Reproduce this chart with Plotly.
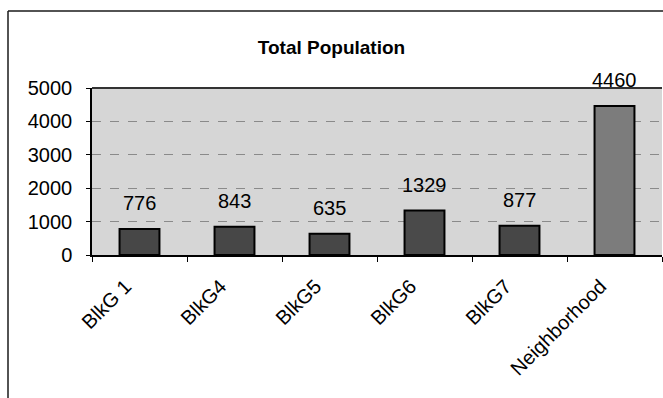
import plotly.graph_objects as go

# Population counts per block group and for the whole neighborhood
categories = ["BlkG 1", "BlkG4", "BlkG5", "BlkG6", "BlkG7", "Neighborhood"]
population = [776, 843, 635, 1329, 877, 4460]
bar_colors = ["#474747", "#474747", "#474747", "#4a4a4a", "#474747", "#7c7c7c"]

y_ticks = [0, 1000, 2000, 3000, 4000, 5000]

FONT = "Liberation Sans, Arial, sans-serif"

fig = go.Figure(
    go.Bar(
        x=categories,
        y=population,
        width=0.42,
        marker=dict(color=bar_colors, line=dict(color="#000000", width=2)),
        showlegend=False,
        hoverinfo="x+y",
    )
)

# value labels floating above each bar
for cat, val in zip(categories, population):
    fig.add_annotation(
        x=cat, y=val, text=str(val), showarrow=False,
        yanchor="bottom", yshift=13,
        font=dict(family=FONT, size=20, color="#000000"),
    )

# outer chart frame (top and left edges)
L, R, T, B = 92, 1, 88, 143
W, H = 663, 398
pw, ph = W - L - R, H - T - B


def px_x(px):
    return (px - L) / pw


def px_y(py):
    return (H - B - py) / ph


fig.add_shape(type="line", xref="paper", yref="paper",
              x0=px_x(8), x1=px_x(663), y0=px_y(11), y1=px_y(11),
              line=dict(color="#1a1a1a", width=1.5))
fig.add_shape(type="line", xref="paper", yref="paper",
              x0=px_x(8), x1=px_x(8), y0=px_y(11), y1=px_y(398),
              line=dict(color="#1a1a1a", width=1.5))
# dark top edge of the plot area
fig.add_shape(type="line", xref="paper", yref="paper",
              x0=0, x1=1, y0=1, y1=1,
              line=dict(color="#333333", width=2))

fig.update_layout(
    width=W, height=H,
    margin=dict(l=L, r=R, t=T, b=B),
    paper_bgcolor="#ffffff",
    plot_bgcolor="#d6d6d6",
    title=dict(
        text="<b>Total Population</b>",
        x=0.5, xref="container", xanchor="center",
        y=1 - 47 / H, yref="container", yanchor="middle",
        font=dict(family=FONT, size=19, color="#000000"),
    ),
    font=dict(family=FONT, size=20, color="#000000"),
)

fig.update_xaxes(
    type="category",
    tickangle=-45,
    tickson="boundaries",
    ticks="outside", ticklen=5, tickcolor="#000000", tickwidth=1,
    showline=True, linecolor="#000000", linewidth=1.5,
    showgrid=False,
    ticklabelstandoff=10,
    ticklabelshift=-14,
    tickfont=dict(family=FONT, size=20, color="#000000"),
)

fig.update_yaxes(
    range=[0, 5000],
    tickvals=y_ticks,
    ticktext=[str(v) for v in y_ticks],
    ticks="outside", ticklen=4, tickcolor="#000000", tickwidth=1,
    showline=True, linecolor="#000000", linewidth=1.5,
    showgrid=True, gridcolor="#8a8a8a", gridwidth=1, griddash="dash",
    zeroline=False,
    ticklabelstandoff=10,
    tickfont=dict(family=FONT, size=20, color="#000000"),
)

fig.write_html("out.html")
